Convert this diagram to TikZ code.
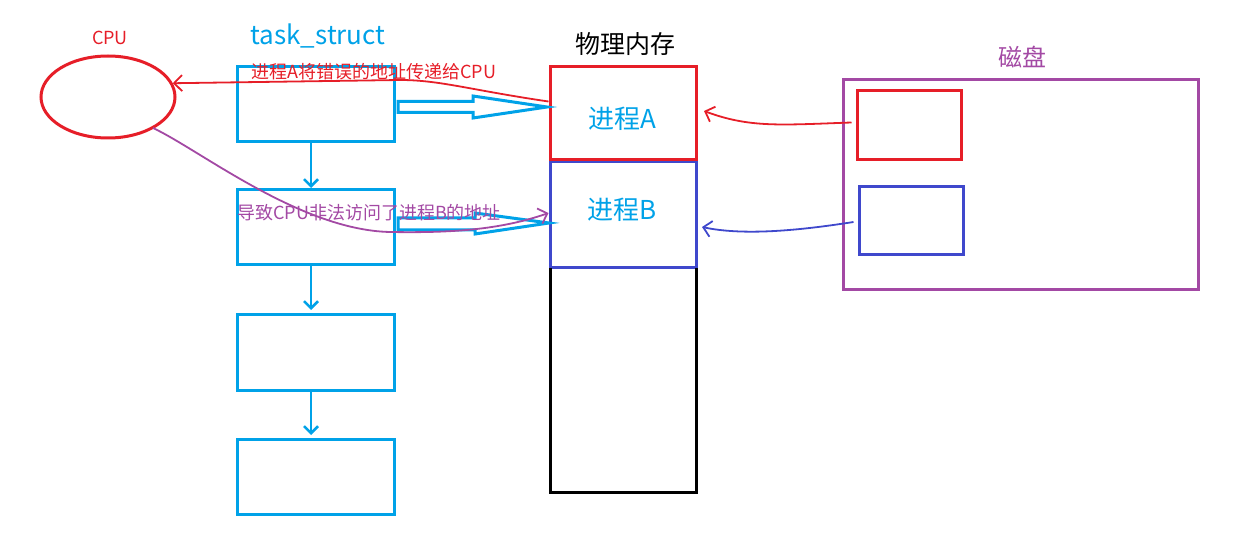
\documentclass[tikz,border=0pt]{standalone}
\usepackage{fontspec}
\setmainfont{Noto Sans CJK SC}
\usetikzlibrary{arrows.meta,calc,shapes.geometric}
\definecolor{pred}{RGB}{230,30,40}
\definecolor{pcyan}{RGB}{0,162,232}
\definecolor{pblue}{RGB}{63,72,204}
\definecolor{ppurple}{RGB}{163,73,164}
\newcommand{\fs}[1]{\fontsize{#1}{#1}\selectfont}
\tikzset{
  taskbox/.style={draw=pcyan,line width=3pt,minimum width=157pt,minimum height=75pt,inner sep=0pt},
  downarr/.style={draw=pcyan,line width=2.5pt,-{Straight Barb[length=7pt,width=14pt]}},
  wire/.style={line width=1.8pt,-{Straight Barb[length=8pt,width=16pt]}},
  blockarr/.style={draw=pcyan,line width=3pt,fill=white,line join=miter},
  memlabel/.style={text=pcyan,font=\fs{26}},
}
\begin{document}
\begin{tikzpicture}[x=1pt,y=-1pt]
\useasboundingbox (0,0) rectangle (1248,545);
% CPU
\node[draw=pred,line width=3pt,ellipse,minimum width=134pt,minimum height=82pt,inner sep=0pt] (cpu) at (108,97) {};
\node[text=pred,font=\fs{18}] (cpulbl) at (110,38) {CPU};
% task_struct
\node[text=pcyan,font=\fs{26}] (tslbl) at (318,36) {task\_struct};
\node[taskbox] (t1) at (315.5,104.5) {};
\node[taskbox] (t2) at (315.5,227.5) {};
\node[taskbox] (t3) at (315.5,352.5) {};
\node[taskbox] (t4) at (315.5,476.5) {};
\draw[downarr] (311,142) -- (311,188);
\draw[downarr] (311,265) -- (311,310);
\draw[downarr] (311,390) -- (311,435);
% memory
\node[font=\fs{25}] (memlbl) at (625,44) {物理内存};
\draw[line width=3pt] (550,67) rectangle (696,492);
\node[draw=pblue,line width=3pt,minimum width=146pt,minimum height=106pt,inner sep=0pt] (pb) at (623,215) {};
\node[draw=pred,line width=3pt,minimum width=146pt,minimum height=93pt,inner sep=0pt] (pa) at (623,113.5) {};
\node[memlabel] (palbl) at (622,119) {进程A};
\node[memlabel] (pblbl) at (622,210) {进程B};
\draw[line width=3pt] (550,268) -- (550,492) -- (696,492) -- (696,268);
% block arrows
\draw[blockarr] (398,101.5) -- (473,101.5) -- (473,96) -- (547,107) -- (473,118) -- (473,112.5) -- (398,112.5) -- cycle;
\draw[blockarr] (398,218) -- (475,218) -- (475,213) -- (549,223) -- (475,234) -- (475,230) -- (398,230) -- cycle;
% disk
\node[text=ppurple,font=\fs{24}] (disklbl) at (1022,57) {磁盘};
\node[draw=ppurple,line width=3pt,minimum width=355pt,minimum height=210pt,inner sep=0pt] (disk) at (1020.5,185) {};
\node[draw=pred,line width=3pt,minimum width=104pt,minimum height=69pt,inner sep=0pt] (da) at (909,125.5) {};
\node[draw=pblue,line width=3pt,minimum width=104pt,minimum height=68pt,inner sep=0pt] (db) at (911,221) {};
% wires
\draw[wire,pred] ($(pa.west)+(0,-12)$) .. controls (470,90) and (440,80) .. (400,80) -- (cpu.12);
\node[text=pred,font=\fs{18},anchor=west,inner sep=0pt] (msgA) at (251,72) {进程A将错误的地址传递给CPU};
\draw[wire,ppurple] (153,128) .. controls (200,150) and (300,230) .. (390,232) .. controls (450,233) and (500,230) .. ($(pb.west)+(0,-2)$);
\node[text=ppurple,font=\fs{18},anchor=west,inner sep=0pt] (msgB) at (237,213) {导致CPU非法访问了进程B的地址};
\draw[wire,pred] ($(da.west)+(-4,-3)$) .. controls (780,125) and (750,128) .. (704,111);
\draw[wire,pblue] ($(db.west)+(-4,1)$) .. controls (790,232) and (740,235) .. (702,227);
\end{tikzpicture}
\end{document}
